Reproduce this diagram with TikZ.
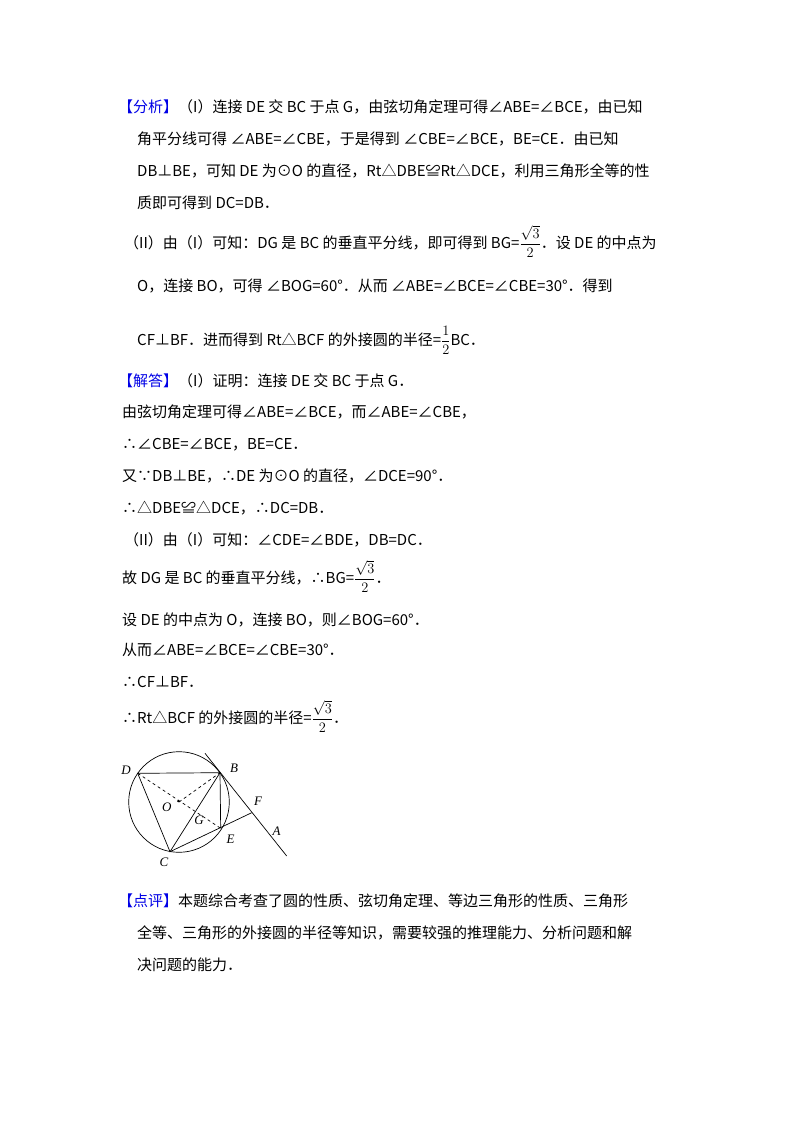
\documentclass[tikz,border=0pt]{standalone}
\usepackage{fontspec}
\setmainfont{Noto Sans CJK SC}
\newfontfamily\lab{Liberation Serif}
\begin{document}
\begin{tikzpicture}[x=1pt,y=-1pt,
  tl/.style={anchor=base west,inner sep=0pt,font=\fontsize{15}{15}\selectfont},
  lb/.style={inner sep=0pt,font=\lab\itshape\fontsize{13}{13}\selectfont},
  fig/.style={line width=0.7pt}]
\useasboundingbox (0,0) rectangle (800,1132);
\definecolor{hb}{RGB}{0,0,230}
\def\fr#1#2{$\displaystyle\frac{#1}{#2}$}
% Analysis
\node[tl] (a1) at (118,112) {\textcolor{hb}{【分析】}（I）连接 DE 交 BC 于点 G，由弦切角定理可得∠ABE=∠BCE，由已知};
\node[tl] (a2) at (137,144) {角平分线可得 ∠ABE=∠CBE，于是得到 ∠CBE=∠BCE，BE=CE．由已知};
\node[tl] (a3) at (137,176) {DB⊥BE，可知 DE 为⊙O 的直径，Rt△DBE≌Rt△DCE，利用三角形全等的性};
\node[tl] (a4) at (137,208) {质即可得到 DC=DB．};
\node[tl] (a5) at (124,248) {（II）由（I）可知：DG 是 BC 的垂直平分线，即可得到 BG=\fr{\sqrt3}{2}．设 DE 的中点为};
\node[tl] (a6) at (137,291) {O，连接 BO，可得 ∠BOG=60°．从而 ∠ABE=∠BCE=∠CBE=30°．得到};
\node[tl] (a7) at (137,345) {CF⊥BF．进而得到 Rt△BCF 的外接圆的半径=\fr{1}{2}$\mathrm{BC}$．};
% Solution
\node[tl] (s1) at (118,386) {\textcolor{hb}{【解答】}（I）证明：连接 DE 交 BC 于点 G．};
\node[tl] (s2) at (122,417) {由弦切角定理可得∠ABE=∠BCE，而∠ABE=∠CBE，};
\node[tl] (s3) at (122,449) {∴∠CBE=∠BCE，BE=CE．};
\node[tl] (s4) at (122,481) {又∵DB⊥BE，∴DE 为⊙O 的直径，∠DCE=90°．};
\node[tl] (s5) at (122,513) {∴△DBE≌△DCE，∴DC=DB．};
\node[tl] (s6) at (124,545) {（II）由（I）可知：∠CDE=∠BDE，DB=DC．};
\node[tl] (s7) at (122,583) {故 DG 是 BC 的垂直平分线，∴BG=\fr{\sqrt3}{2}．};
\node[tl] (s8) at (122,625) {设 DE 的中点为 O，连接 BO，则∠BOG=60°．};
\node[tl] (s9) at (122,655) {从而∠ABE=∠BCE=∠CBE=30°．};
\node[tl] (s10) at (122,687) {∴CF⊥BF．};
\node[tl] (s11) at (122,723) {∴Rt△BCF 的外接圆的半径=\fr{\sqrt3}{2}．};
% Comment
\node[tl] (c1) at (118,906) {\textcolor{hb}{【点评】}本题综合考查了圆的性质、弦切角定理、等边三角形的性质、三角形};
\node[tl] (c2) at (137,938) {全等、三角形的外接圆的半径等知识，需要较强的推理能力、分析问题和解};
\node[tl] (c3) at (137,970) {决问题的能力．};
% Figure
\coordinate (O) at (179,802);
\coordinate (D) at (137.7,773.3);
\coordinate (B) at (220,772.7);
\coordinate (C) at (170,851.7);
\coordinate (E) at (220.7,828.3);
\coordinate (F) at (251.7,812.7);
\coordinate (T1) at (205,753.3);
\coordinate (T2) at (286.7,856);
\draw[fig] (O) circle (50.3);
\draw[fig] (T1) -- (T2);
\draw[fig] (D) -- (B) -- (C) -- cycle;
\draw[fig] (B) -- (E);
\draw[fig] (C) -- (F);
\draw[fig,dashed] (D) -- (E);
\draw[fig,dashed] (O) -- (B);
\fill (178.3,801) circle (1.3);
\node[lb] at (126,770.7) {D};
\node[lb] at (234,768) {B};
\node[lb] at (166.7,807) {O};
\node[lb] at (199,820) {G};
\node[lb] at (230.7,839) {E};
\node[lb] at (164,862.7) {C};
\node[lb] at (258,801.7) {F};
\node[lb] at (276.7,831) {A};
\end{tikzpicture}
\end{document}
